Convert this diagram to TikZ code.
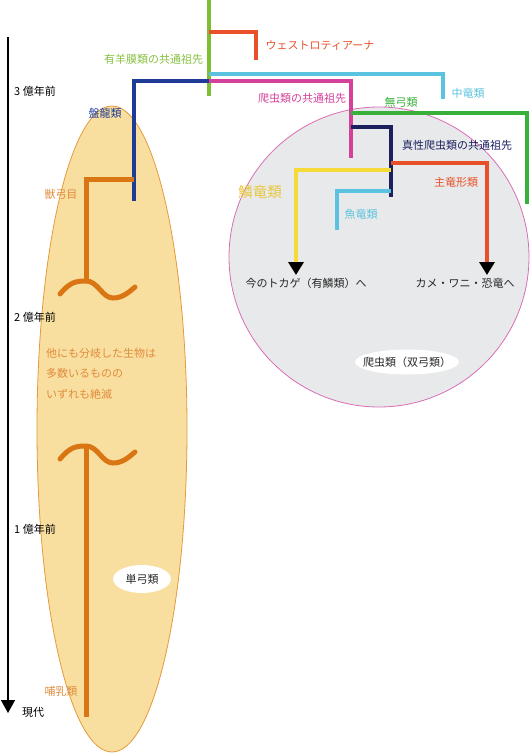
\documentclass[tikz,border=0pt]{standalone}
\usepackage{fontspec}
\setmainfont{Noto Sans CJK JP}
\usetikzlibrary{arrows.meta}
\definecolor{lgreen}{HTML}{7DBE32}
\definecolor{lgreentxt}{HTML}{86C040}
\definecolor{redor}{HTML}{E8502A}
\definecolor{lblue}{HTML}{5BC3DF}
\definecolor{magen}{HTML}{D4409A}
\definecolor{dblue}{HTML}{1E3C96}
\definecolor{navy}{HTML}{1B1F5E}
\definecolor{dgreen}{HTML}{38B03A}
\definecolor{yel}{HTML}{F5DA3A}
\definecolor{yeltxt}{HTML}{E8C840}
\definecolor{oran}{HTML}{D97512}
\definecolor{orantxt}{HTML}{E08C3C}
\definecolor{ellfill}{HTML}{F9DF9F}
\definecolor{ellbord}{HTML}{E59A3A}
\definecolor{circfill}{HTML}{E8E9EA}
\definecolor{circbord}{HTML}{DA6DB5}
\tikzset{
  lbl/.style={inner sep=0pt, font=\fontsize{11}{13}\selectfont},
  br/.style={line width=3.5pt},
  tip/.style={-{Triangle[width=15pt,length=13pt,color=black]}}
}
\begin{document}
\begin{tikzpicture}[x=1pt,y=-1pt]
\useasboundingbox (0,0) rectangle (530,753);
% backgrounds
\fill[ellfill, draw=ellbord, line width=0.8pt] (112,429) ellipse [x radius=75, y radius=323];
\fill[circfill, draw=circbord, line width=0.8pt] (379,257) circle [radius=150];
\fill[white] (142,579) ellipse [x radius=29, y radius=14];
\fill[white] (407,362) ellipse [x radius=52, y radius=12.5];

% coordinates
\coordinate (g0) at (209,0);
\coordinate (g1) at (209,96);
\coordinate (w0) at (209,32);
\coordinate (w1) at (256,32);
\coordinate (w2) at (256,60);
\coordinate (m0) at (209,74);
\coordinate (m1) at (443,74);
\coordinate (m2) at (443,99);
\coordinate (r0) at (209,81);
\coordinate (r1) at (351,81);
\coordinate (r2) at (351,158);
\coordinate (s1) at (134,81);
\coordinate (s2) at (134,201);
\coordinate (t0) at (134,179);
\coordinate (t1) at (84,179);
\coordinate (t2) at (86,282);
\coordinate (a0) at (351,113);
\coordinate (a1) at (527,113);
\coordinate (a2) at (527,204);
\coordinate (d0) at (351,127);
\coordinate (d1) at (391,127);
\coordinate (d2) at (391,197);
\coordinate (c0) at (391,163);
\coordinate (c1) at (487,163);
\coordinate (c2) at (487,275);
\coordinate (y0) at (391,170);
\coordinate (y1) at (296,170);
\coordinate (y2) at (296,275);
\coordinate (f0) at (391,191);
\coordinate (f1) at (337,191);
\coordinate (f2) at (337,230);
\coordinate (ax0) at (8,37);
\coordinate (ax1) at (8,713);
\coordinate (mm0) at (86,446);
\coordinate (mm1) at (86,717);

% branches
\draw[br, lgreen] (g0) -- (g1);
\draw[br, redor] (w0) -- (w1) -- (w2);
\draw[br, lblue] (m0) -- (m1) -- (m2);
\draw[br, magen] (r0) -- (r1) -- (r2);
\draw[br, dblue] (r0) -- (s1) -- (s2);
\draw[line width=5pt, oran] (t0) -- (t1 -| t2) -- (t2);
\draw[line width=5pt, oran, line cap=round] (60,294) .. controls (70,282) and (76,281) .. (86,281) .. controls (98,281) and (102,298) .. (113,298) .. controls (122,298) and (128,293) .. (135,287);
\draw[line width=5pt, oran, line cap=round] (60,459) .. controls (70,447) and (76,446) .. (86,446) .. controls (98,446) and (102,463) .. (113,463) .. controls (122,463) and (128,458) .. (135,452);
\draw[line width=5pt, oran] (mm0) -- (mm1);
\draw[br, dgreen] (a0) -- (a1) -- (a2);
\draw[br, navy] (d0) -- (d1) -- (d2);
\draw[br, redor, tip] (c0) -- (c1) -- (c2);
\draw[br, yel, tip] (y0) -- (y1) -- (y2);
\draw[br, lblue] (f0) -- (f1) -- (f2);
\draw[line width=1.5pt, black, -{Triangle[width=14pt,length=13pt]}] (ax0) -- (ax1);

% labels
\node[lbl, text=lgreentxt] (l1) at (153.5,59) {有羊膜類の共通祖先};
\node[lbl, text=redor] (l2) at (320,46) {ウェストロティアーナ};
\node[lbl, text=lblue] (l3) at (468,93) {中竜類};
\node[lbl, text=magen] (l4) at (302,98) {爬虫類の共通祖先};
\node[lbl, text=dblue] (l5) at (105,113) {盤龍類};
\node[lbl, text=dgreen] (l6) at (401,102) {無弓類};
\node[lbl, text=navy] (l7) at (457,145) {真性爬虫類の共通祖先};
\node[lbl, text=orantxt] (l8) at (61,194) {獣弓目};
\node[lbl, text=redor] (l9) at (456,182) {主竜形類};
\node[lbl, text=yeltxt, font=\fontsize{14.5}{16}\selectfont] (l10) at (260,192) {鱗竜類};
\node[lbl, text=lblue] (l11) at (361,214) {魚竜類};
\node[lbl, text=black!85] (l12) at (306,283) {今のトカゲ（有鱗類）へ};
\node[lbl, text=black!85] (l13) at (465,283) {カメ・ワニ・恐竜へ};
\node[lbl, text=black!85] (l14) at (407,362) {爬虫類（双弓類）};
\node[lbl, text=black!85] (l15) at (142,579) {単弓類};
\node[lbl, text=orantxt] (l16) at (61,691) {哺乳類};
\node[lbl, text=orantxt, anchor=north west, align=left, font=\fontsize{11}{20.5}\selectfont] (l17) at (46,348) {他にも分岐した生物は\\多数いるものの\\いずれも絶滅};
\node[lbl, anchor=west] (y3) at (14,91) {3 億年前};
\node[lbl, anchor=west] (y2l) at (14,317) {2 億年前};
\node[lbl, anchor=west] (y1l) at (14,529) {1 億年前};
\node[lbl, anchor=west] (y0l) at (22,712) {現代};
\end{tikzpicture}
\end{document}
